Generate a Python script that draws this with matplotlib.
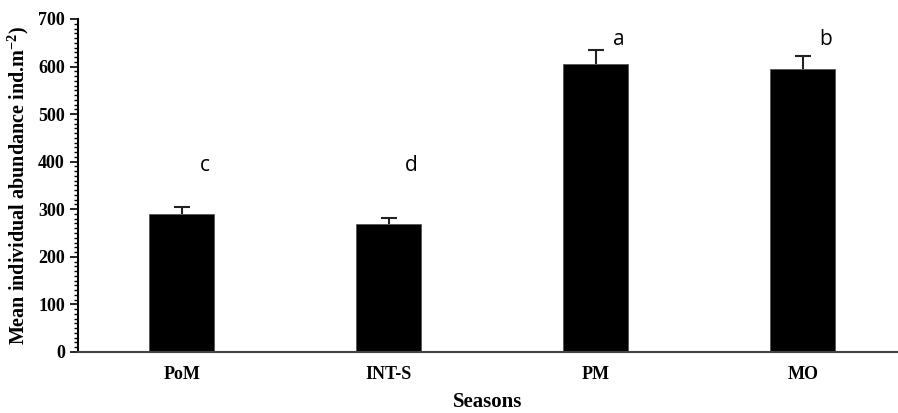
import matplotlib.pyplot as plt
import numpy as np
from matplotlib.ticker import MultipleLocator

plt.rcParams['mathtext.fontset'] = 'custom'
plt.rcParams['mathtext.rm'] = 'Liberation Serif'
plt.rcParams['mathtext.bf'] = 'Liberation Serif:bold'

# Season means, standard errors and significance letters
seasons = ['PoM', 'INT-S', 'PM', 'MO']
means = [290, 269, 606, 595]
errors = [14, 12, 29, 28]
letters = ['c', 'd', 'a', 'b']
letter_y = [392, 392, 656, 656]

fig = plt.figure(figsize=(8.98, 4.13), dpi=100)
ax = fig.add_axes([0.087, 0.148, 0.913, 0.806])

x = np.arange(len(seasons))
ax.bar(x, means, 0.315, color='black', edgecolor='#555555', linewidth=0.6)

# upper-only error bars with a cap at the top
tops = np.array(means) + np.array(errors)
ax.vlines(x, means, tops, color='#222222', linewidth=1.5)
ax.plot(x, tops, linestyle='none', marker='_', markersize=12,
        markeredgewidth=1.5, color='#222222')

for xi, lt, ly in zip(x, letters, letter_y):
    ax.text(xi + 0.11, ly, lt, ha='center', va='center', fontsize=15,
            family='Open Sans')

ax.set_xlim(-0.5, 3.46)
ax.set_ylim(0, 700)
ax.yaxis.set_major_locator(MultipleLocator(100))
ax.yaxis.set_minor_locator(MultipleLocator(10))
ax.tick_params(axis='y', which='major', length=6, width=1.2, direction='out')
ax.tick_params(axis='y', which='minor', length=3, width=1.0, direction='out')
ax.tick_params(axis='x', length=0, pad=10)

ax.set_xticks(x)
ax.set_xticklabels(seasons)
for lab in ax.get_xticklabels() + ax.get_yticklabels():
    lab.set_fontfamily('Liberation Serif')
    lab.set_fontweight('bold')
    lab.set_fontsize(13)

ax.spines['top'].set_visible(False)
ax.spines['right'].set_visible(False)
ax.spines['left'].set_linewidth(1.5)
ax.spines['bottom'].set_linewidth(1.5)
ax.spines['bottom'].set_color('#444444')

ax.set_xlabel('Seasons', family='Liberation Serif', fontweight='bold',
              fontsize=15, labelpad=7)
ax.set_ylabel('Mean individual abundance ind.m$^{\\mathbf{-2}}$)',
              family='Liberation Serif', fontweight='bold', fontsize=14.5,
              labelpad=5)

plt.savefig('out.png')
